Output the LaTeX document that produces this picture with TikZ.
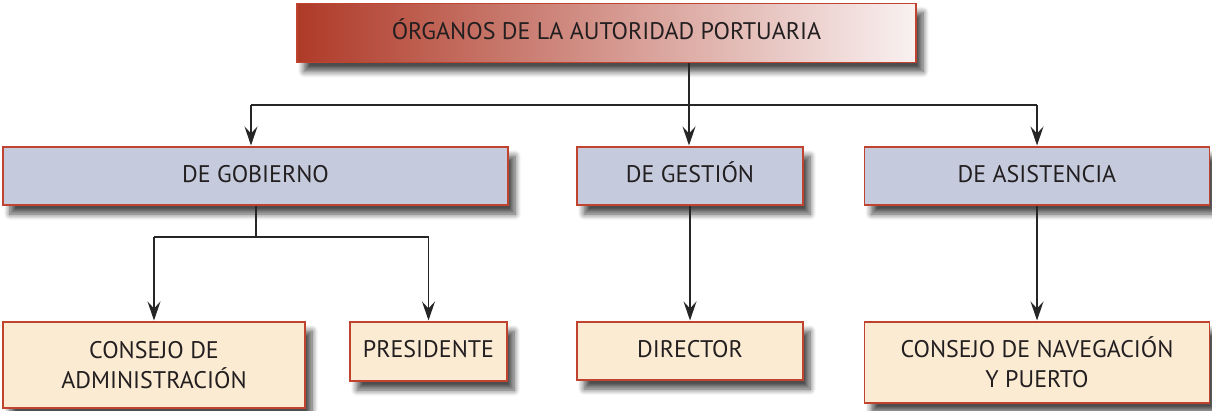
\documentclass[tikz,border=0pt]{standalone}
\usepackage{fontspec}
\setmainfont{PT Sans}
\usetikzlibrary{shadows.blur,arrows.meta}
\definecolor{edge}{HTML}{C0432F}
\definecolor{bluebox}{HTML}{C5CBDD}
\definecolor{creambox}{HTML}{FCEBD3}
\definecolor{txt}{HTML}{231F20}
\definecolor{redL}{HTML}{AF3A28}
\definecolor{redR}{HTML}{F9F1F1}
\tikzset{
  boxbase/.style={draw=edge, line width=1.1pt, text=txt, align=center, inner sep=0pt,
    font=\fontsize{24}{30}\selectfont,
    blur shadow={shadow xshift=7pt, shadow yshift=-9pt, shadow blur steps=8, shadow opacity=70, shadow blur radius=6pt}},
  oneline/.style={text height=17pt, text depth=5pt},
  topbox/.style={boxbase, oneline, shading=axis, left color=redL, right color=redR, shading angle=90},
  midbox/.style={boxbase, oneline, fill=bluebox},
  lowbox/.style={boxbase, fill=creambox},
  conn/.style={draw=black!85, line width=1.3pt},
  arr/.style={conn, -{Stealth[length=19pt,width=13pt,inset=7pt]}}
}
\begin{document}
\begin{tikzpicture}[x=1pt,y=-1pt]
\useasboundingbox (0,0) rectangle (1212,410);
\node[topbox, minimum width=619pt, minimum height=59pt] (top) at (606.5,33) {ÓRGANOS DE LA AUTORIDAD PORTUARIA};
\node[midbox, minimum width=505pt, minimum height=58pt] (gob) at (255.5,176) {DE GOBIERNO};
\node[midbox, minimum width=226pt, minimum height=58pt] (ges) at (690,176) {DE GESTIÓN};
\node[midbox, minimum width=345pt, minimum height=58pt] (asi) at (1037,176) {DE ASISTENCIA};
\node[lowbox, minimum width=302pt, minimum height=86pt] (cadm) at (154,365) {CONSEJO DE\\ADMINISTRACIÓN};
\node[lowbox, oneline, minimum width=157pt, minimum height=59pt] (pres) at (428.5,351.5) {PRESIDENTE};
\node[lowbox, oneline, minimum width=226pt, minimum height=58pt] (dir) at (690,351) {DIRECTOR};
\node[lowbox, minimum width=345pt, minimum height=81pt] (cnav) at (1037,362.5) {CONSEJO DE NAVEGACIÓN\\Y PUERTO};
\coordinate (tj) at (689,105);
\coordinate (tl) at (251,105);
\coordinate (gj) at (256,237);
\draw[conn] (top.south -| tj) -- (tj);
\draw[conn] (tl) -- (tj -| asi);
\draw[arr] (tl) -- ([yshift=1pt]tl |- gob.north);
\draw[arr] (tj) -- ([yshift=1pt]tj |- ges.north);
\draw[arr] (tj -| asi) -- ([yshift=1pt]asi.north);
\draw[conn] (gob.south -| gj) -- (gj);
\draw[conn] (gj -| cadm) -- (gj -| pres);
\draw[arr] (gj -| cadm) -- ([yshift=1pt]cadm.north);
\draw[arr] (gj -| pres) -- ([yshift=1pt]pres.north);
\draw[arr] (ges.south) -- ([yshift=1pt]dir.north);
\draw[arr] (asi.south) -- ([yshift=1pt]cnav.north);
\end{tikzpicture}
\end{document}
